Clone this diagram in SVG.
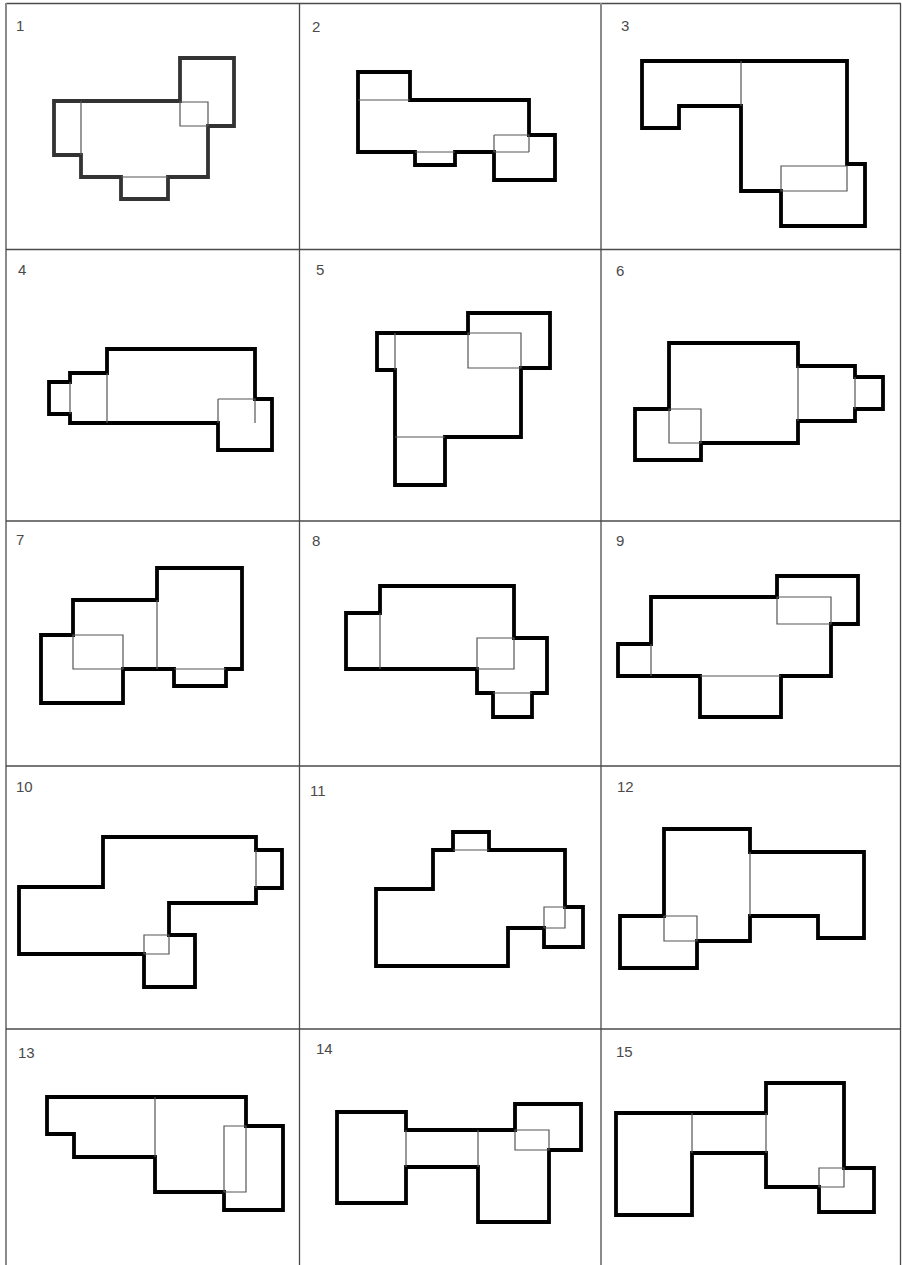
<svg xmlns="http://www.w3.org/2000/svg" width="902" height="1265" viewBox="0 0 902 1265">
<style>
.grid{stroke:#4a4a4a;stroke-width:1.3;fill:none}
.edge{stroke:#8a8a8a;stroke-width:2;fill:none}
.thick{stroke:#000;stroke-width:3.8;fill:none;stroke-linejoin:miter}
.thin{stroke:#555;stroke-width:1.2;fill:none}
.num{font-family:"Liberation Sans",Arial,sans-serif;font-size:15px;fill:#4a4a4a}
</style>
<rect width="902" height="1265" fill="#fff"/>
<g id="grid">
<line class="grid" x1="6" y1="3.5" x2="901" y2="3.5"/>
<line class="edge" x1="6" y1="3" x2="6" y2="1265"/>
<line class="grid" x1="900.5" y1="3" x2="900.5" y2="1265"/>
<line class="grid" x1="299.5" y1="3" x2="299.5" y2="1265"/>
<line class="edge" x1="601" y1="3" x2="601" y2="1265"/>
<line class="grid" x1="6" y1="249.5" x2="901" y2="249.5"/>
<line class="grid" x1="6" y1="521" x2="901" y2="521"/>
<line class="grid" x1="6" y1="766" x2="901" y2="766"/>
<line class="grid" x1="6" y1="1029" x2="901" y2="1029"/>
</g>
<g id="cell1">
<text class="num" x="16" y="31">1</text>
<path class="thick" style="stroke:#333" d="M54,101 H180 V58 H234 V126 H208 V177 H168 V199 H121 V177 H81 V155 H54 Z"/>
<path class="thin" d="M81,101 V155 M180,101 V126 H208 M180,102 H208 V126 M121,177 H168"/>
</g>
<g id="cell2">
<text class="num" x="312" y="32">2</text>
<path class="thick" d="M358,72 H410 V100 H529 V135 H555 V180 H494 V152 H455 V165 H415 V152 H358 Z"/>
<path class="thin" d="M358,100 H410 M415,152 H455 M494,135 V152 H529 M494,135 H529 V152"/>
</g>
<g id="cell3">
<text class="num" x="621" y="31">3</text>
<path class="thick" d="M642,61 H847 V164 H865 V226 H781 V191 H741 V106 H679 V128 H642 Z"/>
<path class="thin" d="M741,61 V106 M781,166 H847 V191 H781 Z"/>
</g>
<g id="cell4">
<text class="num" x="18" y="275">4</text>
<path class="thick" d="M49,382 H70 V373 H107 V349 H255 V399 H272 V450 H218 V423 H70 V414 H49 Z"/>
<path class="thin" d="M70,382 V414 M107,373 V423 M218,399 H255 V423 M218,399 V423"/>
</g>
<g id="cell5">
<text class="num" x="316" y="275">5</text>
<path class="thick" d="M377,333 H468 V313 H550 V368 H521 V437 H445 V485 H395 V370 H377 Z"/>
<path class="thin" d="M395,333 V370 M468,333 H521 V368 H468 Z M395,437 H445"/>
</g>
<g id="cell6">
<text class="num" x="616" y="276">6</text>
<path class="thick" d="M669,343 H798 V366 H855 V377 H883 V409 H855 V421 H798 V443 H701 V460 H635 V409 H669 Z"/>
<path class="thin" d="M798,366 V421 M855,377 V409 M669,409 H701 V443 H669 Z"/>
</g>
<g id="cell7">
<text class="num" x="16" y="545">7</text>
<path class="thick" d="M41,635 H73 V600 H157 V568 H242 V669 H226 V686 H174 V669 H123 V703 H41 Z"/>
<path class="thin" d="M157,600 V669 M73,635 H123 V669 H73 Z M174,669 H226"/>
</g>
<g id="cell8">
<text class="num" x="312" y="546">8</text>
<path class="thick" d="M346,613 H380 V586 H514 V638 H547 V693 H532 V717 H493 V693 H477 V669 H346 Z"/>
<path class="thin" d="M380,613 V669 M477,638 H514 V669 H477 Z M493,693 H532"/>
</g>
<g id="cell9">
<text class="num" x="616" y="546">9</text>
<path class="thick" d="M651,597 H777 V576 H858 V624 H831 V676 H781 V717 H700 V676 H618 V644 H651 Z"/>
<path class="thin" d="M651,644 V676 M777,597 H831 V624 H777 Z M700,676 H781"/>
</g>
<g id="cell10">
<text class="num" x="16" y="792">10</text>
<path class="thick" d="M19,887 H103 V837 H256 V850 H282 V888 H256 V903 H169 V935 H195 V987 H144 V954 H19 Z"/>
<path class="thin" d="M256,850 V888 M144,935 H169 V954 H144 Z"/>
</g>
<g id="cell11">
<text class="num" x="310" y="796">11</text>
<path class="thick" d="M433,850 H453 V832 H489 V850 H565 V907 H583 V947 H544 V928 H508 V966 H376 V889 H433 Z"/>
<path class="thin" d="M453,850 H489 M544,907 H565 V928 H544 Z"/>
</g>
<g id="cell12">
<text class="num" x="617" y="792">12</text>
<path class="thick" d="M664,829 H750 V852 H864 V938 H818 V916 H750 V941 H697 V968 H620 V916 H664 Z"/>
<path class="thin" d="M750,852 V916 M664,916 H697 V941 H664 Z"/>
</g>
<g id="cell13">
<text class="num" x="18" y="1058">13</text>
<path class="thick" d="M47,1097 H246 V1126 H283 V1210 H224 V1192 H155 V1157 H74 V1134 H47 Z"/>
<path class="thin" d="M155,1097 V1157 M224,1126 H246 V1192 H224 Z"/>
</g>
<g id="cell14">
<text class="num" x="316" y="1054">14</text>
<path class="thick" d="M337,1112 H406 V1130 H515 V1104 H581 V1150 H549 V1222 H478 V1167 H406 V1203 H337 Z"/>
<path class="thin" d="M406,1130 V1167 M478,1130 V1167 M515,1130 H549 V1150 H515 Z"/>
</g>
<g id="cell15">
<text class="num" x="616" y="1057">15</text>
<path class="thick" d="M616,1113 H766 V1083 H844 V1168 H874 V1212 H819 V1187 H766 V1153 H692 V1215 H616 Z"/>
<path class="thin" d="M692,1113 V1153 M766,1113 V1153 M819,1168 H844 V1187 H819 Z"/>
</g>
</svg>
